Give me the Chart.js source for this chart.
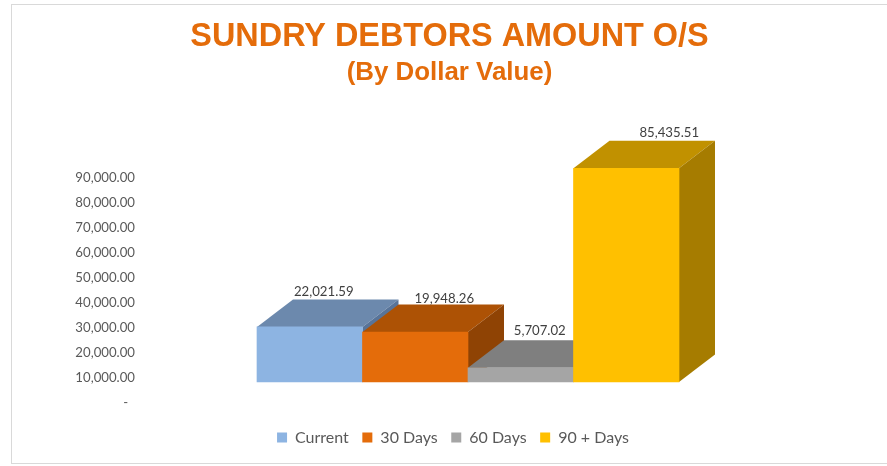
<!DOCTYPE html>
<html><head><meta charset="utf-8">
<style>
html,body{margin:0;padding:0;background:#fff;overflow:hidden;width:887px;height:466px}
#frame{position:absolute;left:11px;top:4px;width:900px;height:458px;border:1px solid #d9d9d9;box-sizing:content-box}
#wrap{position:absolute;left:12px;top:0;width:875px;height:466px}
</style>
<script src="https://cdn.jsdelivr.net/npm/chart.js@4"></script>
</head><body>
<div id="frame"></div>
<div id="wrap"><canvas id="c" width="875" height="466"></canvas></div>
<script>
const categories = ['Amount O/S'];
const seriesNames = ['Current', '30 Days', '60 Days', '90 + Days'];
const seriesValues = [22021.59, 19948.26, 5707.02, 85435.51];
const frontColors = ['#8DB4E2', '#E46C0A', '#A5A5A5', '#FFC000'];
const topColors = ['#6C89AD', '#AD5205', '#7F7F7F', '#C19100'];
const sideColors = ['#587499', '#8F4304', '#6B6B6B', '#A67C00'];
const labelShifts = [14, 29, 19, 43];
const labelRises = [8, 5.5, 9, 8];
const fmt = v => v.toLocaleString('en-US', {minimumFractionDigits: 2, maximumFractionDigits: 2});
const FONT = 'Lato, Carlito, sans-serif';
const DX = 36, DY = 27.5, LIFT = 21;

const bars3d = {
  id: 'bars3d',
  afterLayout(chart) {
    chart.boxes.forEach(b => {
      if (b.options && b.options.text !== undefined) { b.left = 0; b.right = 875; }
    });
    const lg = chart.legend, h = lg.height;
    lg.left = 0;
    lg.right = 882;
    lg.top = 416;
    lg.bottom = 416 + h;
  },
  beforeDatasetsDraw(chart) {
    const ctx = chart.ctx;
    const metas = chart.data.datasets.map((d, i) => chart.getDatasetMeta(i));
    metas.forEach((meta, i) => {
      const bar = meta.data[0];
      const left = bar.x - bar.width / 2, right = bar.x + bar.width / 2;
      const top = bar.y - LIFT, base = bar.base - LIFT;
      ctx.save();
      ctx.fillStyle = topColors[i];
      ctx.beginPath();
      ctx.moveTo(left, top); ctx.lineTo(left + DX, top - DY);
      ctx.lineTo(right + DX, top - DY); ctx.lineTo(right, top);
      ctx.closePath(); ctx.fill();
      ctx.fillStyle = sideColors[i];
      ctx.beginPath();
      ctx.moveTo(right, top); ctx.lineTo(right + DX, top - DY);
      ctx.lineTo(right + DX, base - DY); ctx.lineTo(right, base);
      ctx.closePath(); ctx.fill();
      ctx.translate(0, -LIFT);
      meta.controller.draw();
      ctx.restore();
    });
    ctx.save();
    ctx.font = '13.2px ' + FONT;
    ctx.fillStyle = '#404040';
    ctx.textAlign = 'center';
    ctx.textBaseline = 'middle';
    metas.forEach((meta, i) => {
      const bar = meta.data[0];
      ctx.fillText(fmt(seriesValues[i]), bar.x + labelShifts[i], bar.y - LIFT - DY - labelRises[i]);
    });
    ctx.restore();
    return false;
  }
};

new Chart(document.getElementById('c'), {
  type: 'bar',
  data: {
    labels: categories,
    datasets: seriesNames.map((name, i) => ({
      label: name,
      data: [seriesValues[i]],
      backgroundColor: frontColors[i],
      borderWidth: 0,
      categoryPercentage: 1,
      barPercentage: 1
    }))
  },
  options: {
    responsive: false,
    maintainAspectRatio: false,
    animation: false,
    layout: {padding: {top: 18, right: 208, bottom: 23.5, left: 0}},
    scales: {
      x: {display: false},
      y: {
        min: 0, max: 90000,
        afterFit(s) { s.width = 245; s.paddingTop = 0; s.paddingBottom = 0; },
        grid: {display: false, drawTicks: false},
        border: {display: false},
        ticks: {
          stepSize: 10000,
          padding: 122,
          color: '#595959',
          font: {family: FONT, size: 13.2},
          callback: v => v === 0 ? '-  ' : fmt(v)
        }
      }
    },
    plugins: {
      title: {display: true, text: 'SUNDRY DEBTORS AMOUNT O/S', color: '#E46C0A',
        font: {family: '"Liberation Sans", Arial, sans-serif', size: 32.4, weight: 'bold'}, padding: {top: 0, bottom: 0}},
      subtitle: {display: true, text: '(By Dollar Value)', color: '#E46C0A',
        font: {family: '"Liberation Sans", Arial, sans-serif', size: 25.9, weight: 'bold'}, padding: {top: 0, bottom: 90}},
      legend: {position: 'bottom',
        labels: {boxWidth: 10, boxHeight: 10, padding: 13.5, color: '#595959', font: {family: FONT, size: 16}}},
      tooltip: {enabled: false}
    }
  },
  plugins: [bars3d]
});
</script>
</body></html>
